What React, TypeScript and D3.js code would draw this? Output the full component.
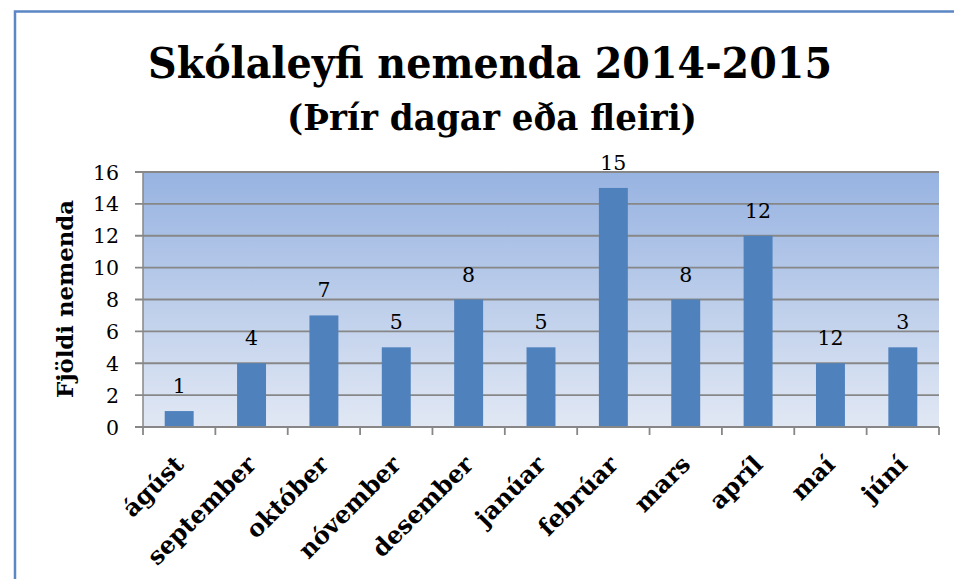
import React from "react";
import * as d3 from "d3";

const categories = ["ágúst", "september", "október", "nóvember", "desember", "janúar", "febrúar", "mars", "apríl", "maí", "júní"];
const values = [1, 4, 7, 5, 8, 5, 15, 8, 12, 4, 5];
const labels = ["1", "4", "7", "5", "8", "5", "15", "8", "12", "12", "3"];
const yTicks = [0, 2, 4, 6, 8, 10, 12, 14, 16];
const title = "Skólaleyfi nemenda 2014-2015";
const subtitle = "(Þrír dagar eða fleiri)";
const yTitle = "Fjöldi nemenda";

export default function App() {
  const W = 954, H = 579;
  const left = 143, right = 939, top = 172, bottom = 427;
  const x = d3.scaleBand<string>().domain(categories).range([left, right]).paddingInner(0.6).paddingOuter(0.3);
  const y = d3.scaleLinear().domain([0, 16]).range([bottom, top]);
  const step = (right - left) / categories.length;
  const serif = "'DejaVu Serif', 'Liberation Serif', serif";
  return (
    <svg width={W} height={H} style={{ position: "absolute", left: 0, top: 0, background: "#fff" }}>
      <defs>
        <linearGradient id="bg" x1="0" y1="0" x2="0" y2="1">
          <stop offset="0" stopColor="#97b3e1" />
          <stop offset="1" stopColor="#e1e8f4" />
        </linearGradient>
      </defs>
      <rect x={15} y={11.5} width={1100} height={700} fill="none" stroke="#5b87c4" strokeWidth={2.5} />
      <text x={490} y={78} textAnchor="middle" fontFamily={serif} fontWeight="bold" fontSize={42} textLength={684} lengthAdjust="spacingAndGlyphs">{title}</text>
      <text x={492} y={130} textAnchor="middle" fontFamily={serif} fontWeight="bold" fontSize={35} textLength={410} lengthAdjust="spacingAndGlyphs">{subtitle}</text>
      <rect x={left} y={top} width={right - left} height={bottom - top} fill="url(#bg)" />
      {yTicks.map((t) => (
        <g key={t}>
          <line x1={left - 8} x2={right} y1={y(t)} y2={y(t)} stroke="#878787" strokeWidth={1.8} />
          <text x={119} y={y(t) + 7.5} textAnchor="end" fontFamily={serif} fontSize={20.5}>{t}</text>
        </g>
      ))}
      <line x1={left} x2={left} y1={top} y2={bottom} stroke="#878787" strokeWidth={1.5} />
      {d3.range(categories.length + 1).map((i) => (
        <line key={i} x1={left + i * step} x2={left + i * step} y1={bottom} y2={bottom + 8} stroke="#878787" strokeWidth={1.8} />
      ))}
      {categories.map((c, i) => (
        <g key={c}>
          <rect x={x(c)} y={y(values[i])} width={x.bandwidth()} height={bottom - y(values[i])} fill="#4f81bd" />
          <text x={(x(c) as number) + x.bandwidth() / 2} y={y(values[i]) - 18} textAnchor="middle" fontFamily={serif} fontSize={20.5}>{labels[i]}</text>
          <text transform={`translate(${(x(c) as number) + x.bandwidth() / 2 + 6},${466}) rotate(-45)`} textAnchor="end" fontFamily={serif} fontWeight="bold" fontSize={24}>{c}</text>
        </g>
      ))}
      <line x1={left} x2={right} y1={bottom} y2={bottom} stroke="#878787" strokeWidth={1.8} />
      <text transform={`translate(73,299) rotate(-90)`} textAnchor="middle" fontFamily={serif} fontWeight="bold" fontSize={23} textLength={198} lengthAdjust="spacingAndGlyphs">{yTitle}</text>
    </svg>
  );
}
